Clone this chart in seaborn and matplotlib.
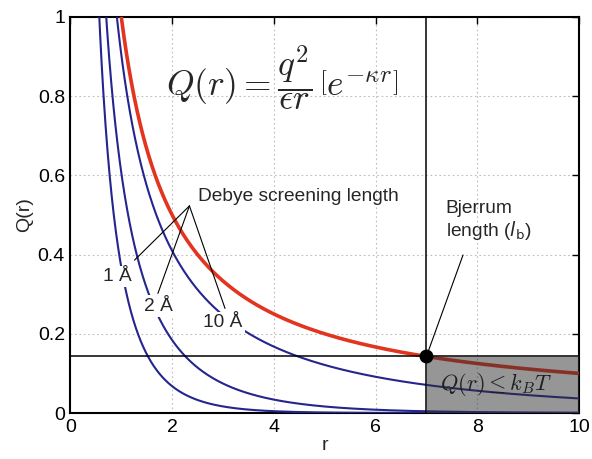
import numpy as np
import pandas as pd
import matplotlib
matplotlib.use("Agg")
import matplotlib.pyplot as plt
import seaborn as sns

# Model parameters (Q(r) = q^2/(eps r) * exp(-kappa r), kappa = 1/lambda_D)
coupling = 1.0                    # q^2 / eps
screening_lengths = [1.0, 2.0, 10.0]   # Debye screening lengths (Angstrom)
screening_labels = ["1 Å", "2 Å", "10 Å"]
bjerrum_length = 7.0
label_positions = [(0.92, 0.345), (1.73, 0.27), (3.0, 0.228)]
pointer_ends = [(1.26, 0.386), (1.72, 0.302), (3.04, 0.264)]
pointer_apex = (2.34, 0.523)

x_ticks = [0, 2, 4, 6, 8, 10]
y_ticks = [0, 0.2, 0.4, 0.6, 0.8, 1]
y_ticklabels = ["0", "0.2", "0.4", "0.6", "0.8", "1"]

sns.set_style("white")
plt.rcParams["font.family"] = ["Liberation Sans", "DejaVu Sans"]

r = np.linspace(0.3, 10, 1200)
frames = [pd.DataFrame({"r": r, "Q": coupling / r, "curve": "bare"})]
for lam in screening_lengths:
    frames.append(pd.DataFrame({"r": r, "Q": coupling / r * np.exp(-r / lam),
                                "curve": f"{lam:g}"}))
df = pd.concat(frames, ignore_index=True)
kT = coupling / bjerrum_length

fig = plt.figure(figsize=(5.92, 4.59), dpi=100)
ax = fig.add_axes([0.119, 0.1002, 0.859, 0.8628])

blue = "#25258f"
red = "#e2341f"
palette = {"bare": red}
palette.update({f"{lam:g}": blue for lam in screening_lengths})
sizes = {"bare": 2.6}
sizes.update({f"{lam:g}": 1.5 for lam in screening_lengths})
sns.lineplot(data=df, x="r", y="Q", hue="curve", size="curve", palette=palette,
             sizes=sizes, legend=False, ax=ax, zorder=3, estimator=None, sort=False)

# Bjerrum length markers
ax.axvline(bjerrum_length, color="black", lw=1.1, zorder=4)
ax.axhline(kT, color="black", lw=1.1, zorder=4)
ax.fill_between([bjerrum_length, 10], 0, kT, color="#2e2e2e", alpha=0.5,
                lw=0, zorder=5)
ax.plot([bjerrum_length], [kT], "o", color="black", ms=9, zorder=7)

ax.set_xlim(0, 10)
ax.set_ylim(0, 1)
ax.set_xticks(x_ticks)
ax.set_yticks(y_ticks)
ax.set_yticklabels(y_ticklabels)
ax.tick_params(direction="in", length=5, width=1, labelsize=14, top=True,
               right=True, pad=4, colors="black")
ax.grid(True, ls=(0, (1.5, 2.5)), color="#bdbdbd", lw=0.8)
for s in ax.spines.values():
    s.set_color("black")
    s.set_linewidth(1.5)
ax.set_xlabel("r", fontsize=14, labelpad=1)
ax.set_ylabel("Q(r)", fontsize=14, labelpad=3)

# Formula
ax.text(4.17, 0.847, r"$Q(r) = \dfrac{q^2}{\epsilon r}\,\left[e^{-\kappa r}\right]$",
        fontsize=25.5, math_fontfamily="cm", ha="center", va="center", zorder=6)
ax.text(8.38, 0.071, r"$Q(r) \leq k_BT$", fontsize=16, math_fontfamily="cm",
        ha="center", va="center", color="#1e1e1e", zorder=6)

# Debye screening length labels
ax.text(2.5, 0.546, "Debye screening length", fontsize=13.8, ha="left",
        va="center", zorder=6)
for (lx, ly), lab in zip(label_positions, screening_labels):
    ax.text(lx, ly, lab, fontsize=13.8, ha="center", va="center", zorder=6,
            bbox=dict(fc="white", ec="none", pad=1.5))
for ex, ey in pointer_ends:
    ax.plot([pointer_apex[0], ex], [pointer_apex[1], ey], color="black",
            lw=0.8, zorder=6)

# Bjerrum length label
ax.text(7.38, 0.485, "Bjerrum\nlength ($l_\\mathrm{b}$)", fontsize=13.8,
        ha="left", va="center", linespacing=1.1, zorder=6)
ax.plot([7.72, bjerrum_length], [0.399, kT], color="black", lw=0.8, zorder=6)

fig.savefig("out.png", dpi=100)
